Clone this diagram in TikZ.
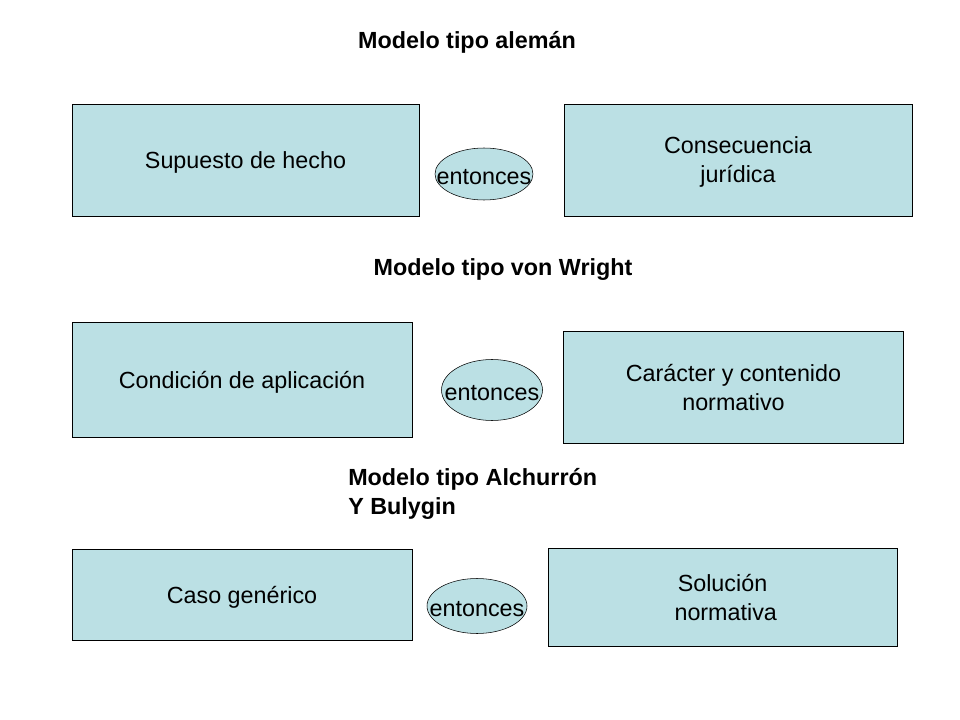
\documentclass[tikz,border=0pt]{standalone}
\usepackage{fontspec}
\setmainfont{Liberation Sans}
\usepackage{xcolor}
\usetikzlibrary{shapes.geometric}
\definecolor{boxblue}{RGB}{187,224,228}
\tikzset{
  boxnode/.style={draw, fill=boxblue, inner sep=0pt, align=center, text depth=0pt, font=\fontsize{17.5}{21.75}\selectfont},
  ovalnode/.style={draw, ellipse, fill=boxblue, inner sep=0pt},
  ovaltext/.style={inner sep=0pt, text depth=0pt, yshift=-2pt, font=\fontsize{17.5}{21.75}\selectfont},
  titlenode/.style={inner sep=0.75pt, align=left, font=\fontsize{17.5}{21.75}\selectfont\bfseries}
}

\begin{document}
\begin{tikzpicture}[x=0.75pt,y=0.75pt,yscale=-1,xscale=1]
\useasboundingbox (0,0) rectangle (960,720);

% Text Node
\draw (467,42) node [titlenode] (tAleman) {Modelo tipo alemán};
%Shape: Rectangle
\draw (245.5,160) node [boxnode, minimum width=347*0.75pt, minimum height=112*0.75pt] (supuesto) {Supuesto de hecho};
%Shape: Rectangle
\draw (738,160) node [boxnode, minimum width=348*0.75pt, minimum height=112*0.75pt] (consecuencia) {Consecuencia\\jurídica};
%Shape: Ellipse
\draw (484,174) node [ovalnode, minimum width=98*0.75pt, minimum height=52*0.75pt, label={[ovaltext]center:entonces}] (entonces1) {};

% Text Node
\draw (503,270) node [titlenode] (tWright) {Modelo tipo von Wright};
%Shape: Rectangle
\draw (242,379.5) node [boxnode, minimum width=340*0.75pt, minimum height=115*0.75pt] (condicion) {Condición de aplicación};
%Shape: Rectangle
\draw (733.5,387) node [boxnode, minimum width=340*0.75pt, minimum height=112*0.75pt] (caracter) {Carácter y contenido\\normativo};
%Shape: Ellipse
\draw (492,390) node [ovalnode, minimum width=101*0.75pt, minimum height=61*0.75pt, label={[ovaltext]center:entonces}] (entonces2) {};

% Text Node
\draw (347,494) node [titlenode, anchor=west] (tAlchurron) {Modelo tipo Alchurrón\\Y Bulygin};
%Shape: Rectangle
\draw (242,594.5) node [boxnode, minimum width=340*0.75pt, minimum height=91*0.75pt] (caso) {Caso genérico};
%Shape: Rectangle
\draw (722.5,597.5) node [boxnode, minimum width=349*0.75pt, minimum height=98*0.75pt] (solucion) {Solución\\\ normativa};
%Shape: Ellipse
\draw (477,606) node [ovalnode, minimum width=100*0.75pt, minimum height=55*0.75pt, label={[ovaltext]center:entonces}] (entonces3) {};

\end{tikzpicture}
\end{document}
